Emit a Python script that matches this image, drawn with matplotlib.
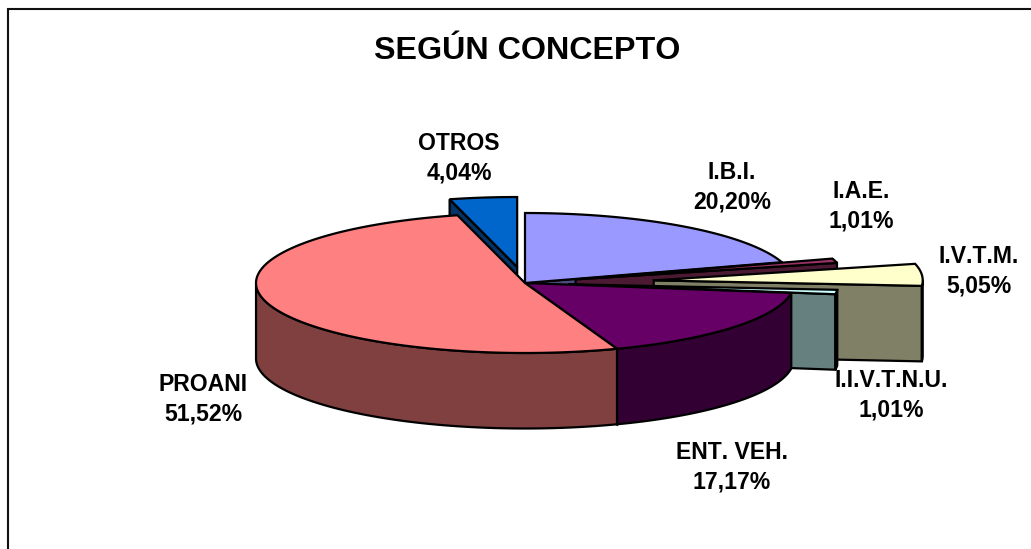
# 3D style exploded pie, drawn by hand on a pixel-sized axes
import numpy as np
import matplotlib
matplotlib.use("Agg")
import matplotlib.pyplot as plt
from matplotlib.patches import Polygon

plt.rcParams['font.family'] = ['Liberation Sans', 'DejaVu Sans']
plt.rcParams['text.kerning_factor'] = 6  # reference text has no kerning

# data, clockwise from 12 o'clock
names = ['I.B.I.', 'I.A.E.', 'I.V.T.M.', 'I.I.V.T.N.U.', 'ENT. VEH.', 'PROANI', 'OTROS']
values = [20, 1, 5, 1, 17, 51, 4]

# styles
top_colors = ['#9999FF', '#993366', '#FFFFCC', '#CCFFFF', '#660066', '#FF8080', '#0066CC']
side_colors = ['#4C4C80', '#4C1933', '#808066', '#668080', '#330033', '#804040', '#003366']
explode = [0.0, 0.195, 0.48, 0.165, 0.0, 0.0, 0.23]
label_pos = [(732, 187), (861, 206), (979, 271), (891, 395), (732, 467), (203, 399), (459, 158)]

cx, cy = 525, 283
rx, ry = 269, 70
depth = 75.5
LW = 1.6

fig = plt.figure(figsize=(10.31, 5.49), dpi=100)
ax = fig.add_axes([0, 0, 1, 1])
ax.set_xlim(0, 1031)
ax.set_ylim(549, 0)
ax.set_axis_off()

# chart border (only top and left fall inside the picture)
ax.plot([8, 8, 1031], [549, 9, 9], color='#111111', lw=1.5, solid_joinstyle='miter')


def point(theta, ox, oy, r=1.0):
    return ox + r * rx * np.sin(theta), oy - r * ry * np.cos(theta)


def face(pts, color):
    ax.add_patch(Polygon(pts, closed=True, facecolor=color, edgecolor='black',
                         lw=LW, joinstyle='miter'))


def extrude(pts):
    # wall hanging down from a run of top points
    down = [(x, y + depth) for x, y in pts]
    return list(pts) + down[::-1]


total = sum(values)
edges = np.cumsum([0] + values) / total * 2 * np.pi

# slices go back to front, so the later ones cover the earlier ones
order = [6, 0, 1, 2, 3, 4, 5]
for i in order:
    a0, a1 = edges[i], edges[i + 1]
    mid = (a0 + a1) / 2
    ox, oy = point(mid, cx, cy, explode[i])
    arc = [point(t, ox, oy) for t in np.linspace(a0, a1, 120)]
    apex = (ox, oy)

    # cut faces that turn towards the viewer
    if np.sin(a1) > 0:
        face(extrude([apex, arc[-1]]), side_colors[i])
    if np.sin(a0) < 0:
        face(extrude([apex, arc[0]]), side_colors[i])

    # outer rim, front half only
    front = [p for p, t in zip(arc, np.linspace(a0, a1, 120))
             if np.pi / 2 <= t <= 3 * np.pi / 2]
    if len(front) > 1:
        face(extrude(front), side_colors[i])

    face([apex] + arc, top_colors[i])

ax.text(527, 51, 'SEGÚN CONCEPTO', ha='center', va='center',
        fontsize=23.2, fontweight='bold', color='black')

for name, val, (lx, ly) in zip(names, values, label_pos):
    pct = f'{val / total * 100:.2f}%'.replace('.', ',')
    ax.text(lx, ly, name + '\n' + pct, ha='center', va='center', fontsize=16.6,
            fontweight='bold', color='black', linespacing=1.38)

fig.savefig('out.png', dpi=100, facecolor='white')
